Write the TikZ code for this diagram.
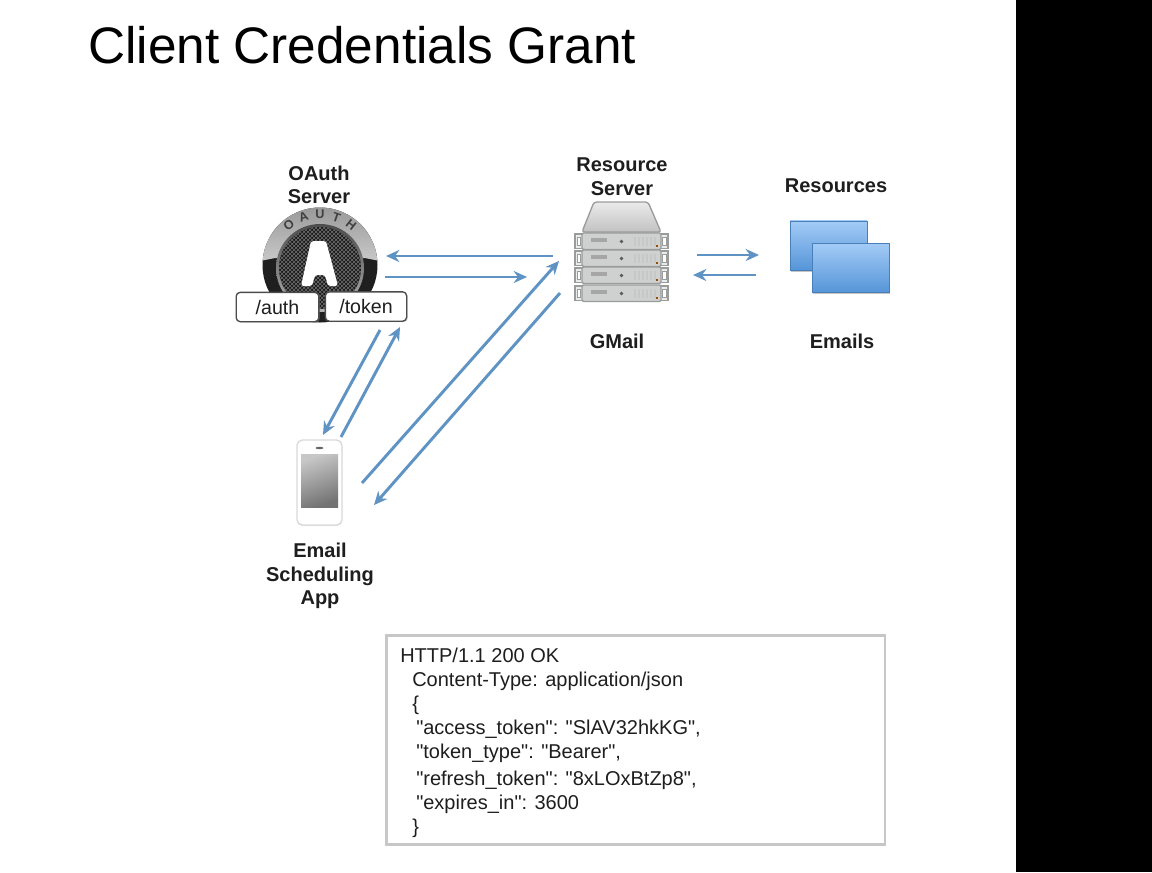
\documentclass[tikz,border=0pt]{standalone}
\usepackage{fontspec}
\setmainfont{Liberation Sans}
\newfontfamily\respfont{Liberation Sans}
\usetikzlibrary{
  arrows.meta,
  calc,
  shadows,
  patterns,
}
\definecolor{flowblue}{HTML}{5F93C3}
\definecolor{inkgrey}{HTML}{1E1E1E}
\definecolor{rackgrey}{HTML}{CFD1D1}
\definecolor{rackedge}{HTML}{9A9C9C}
\definecolor{sheetblue}{HTML}{5595D8}
\definecolor{sheetlight}{HTML}{A3CBF6}

\begin{document}
\begin{tikzpicture}[
  x=0.75pt, y=-0.75pt,
  flow/.style={-{Stealth[length=10pt,width=9pt]}, line width=2.2pt, flowblue},
  caption/.style={font=\fontsize{15}{17.7}\selectfont\bfseries, text=inkgrey, align=center, inner sep=0pt},
  endpoint/.style={draw=black!70, line width=1pt, fill=white, rounded corners=3pt, inner sep=0pt,
    minimum height=22pt, font=\fontsize{14.7}{17}\selectfont, text=inkgrey, drop shadow={shadow xshift=0.8pt, shadow yshift=-0.8pt, opacity=0.35}},
  sheet/.style={draw=sheetblue!85!black, line width=0.5pt, top color=sheetlight, bottom color=sheetblue,
    minimum width=57.5pt, minimum height=37pt, inner sep=0pt, drop shadow={shadow xshift=0.8pt, shadow yshift=-1pt, opacity=0.45}},
  rackunit/.style={draw=rackedge, line width=1.1pt, fill=rackgrey, rounded corners=1pt},
]
  \useasboundingbox (0,0) rectangle (1152,872);
  % Page
  \fill[white] (0,0) rectangle (1152,872);
  \fill[black] (1016,0) rectangle (1152,872);
  \node[anchor=west, inner sep=0pt, text=black, font=\fontsize{38.5}{42}\selectfont] (title) at (88,45) {Client Credentials Grant};

  % Captions
  \node[caption] (oauthcap) at (319,185) {OAuth\\Server};
  \node[caption] (rescap) at (622,177) {Resource\\Server};
  \node[caption] (sheetcap) at (836,186) {Resources};
  \node[caption] (gmailcap) at (617,341) {GMail};
  \node[caption] (emailcap) at (842,341) {Emails};
  \node[caption] (appcap) at (320,576) {Email\\Scheduling\\App};

  % OAuth logo
  \fill[black!88] (320,265) circle (57.5);
  \begin{scope}
    \clip (255,200) -- (385,200) -- (385,262) -- (365,258) -- (275,258) -- (255,262) -- cycle;
    \shade[top color=black!40, bottom color=white] (320,265) circle (57.5);
  \end{scope}
  \shade[top color=black!70, bottom color=black!30] (320,268) circle (44);
  \fill[black!90] (320,268) circle (41);
  \fill[pattern=crosshatch, pattern color=black!55] (320,268) circle (41);
  \fill[white, rounded corners=2pt] (311,241) -- (326,241) -- (338,286) -- (328,286) -- (325,275) -- (315,275) -- (312,286) -- (301,286) -- cycle;
  \foreach \letter/\ang in {O/128, A/109, U/90, T/71, H/52}
    \node[font=\fontsize{9.5}{9.5}\selectfont\bfseries, text=black!75, inner sep=0pt, rotate=\ang-90] at ($(320,265)+(\ang:50.5 and -50.5)$) {\letter};

  % Endpoints
  \node[endpoint, minimum width=62pt] (auth) at (277.5,307) {/auth};
  \node[endpoint, minimum width=61pt] (token) at (366,306.5) {/token};

  % Server rack
  \fill[draw=rackedge, line width=1pt, rounded corners=2pt, top color=black!8, bottom color=black!24]
    (594,202) -- (648,202) -- (661,232) -- (582,232) -- cycle;
  \foreach \yy in {233,250,267,285} {
    \draw[rackedge, line width=0.9pt, fill=black!8] (575,\yy+1) rectangle (668,\yy+15.5);
    \draw[rackunit] (582,\yy) rectangle (661,\yy+16.5);
    \draw[rackedge, line width=0.7pt, fill=white] (577,\yy+4) rectangle (580.5,\yy+12);
    \draw[rackedge, line width=0.7pt, fill=white] (662.5,\yy+4) rectangle (666,\yy+12);
    \fill[black!35] (591,\yy+5) rectangle (607,\yy+9);
    \fill[black!65] (621.5,\yy+8.5) circle (1.8);
    \foreach \xx in {634,638,...,654}
      \fill[black!22] (\xx,\yy+4) rectangle (\xx+2,\yy+13);
    \fill[orange!60!black] (656,\yy+12) rectangle (658,\yy+14);
  }
  \node[inner sep=0pt, minimum width=69.75pt, minimum height=75pt] (rack) at (621.5,252) {};

  % Resource sheets
  \node[sheet] (sheetback) at (828.5,245.5) {};
  \node[sheet] (sheetfront) at (850.5,268) {};

  % Phone
  \node[draw=black!15, line width=1pt, fill=white, rounded corners=4pt, minimum width=33.75pt, minimum height=63.75pt, inner sep=0pt,
    drop shadow={shadow xshift=0pt, shadow yshift=-0.8pt, opacity=0.2}] (phone) at (319.5,482.5) {};
  \shade[top color=black!22, bottom color=black!55, shading angle=20] (301,454) rectangle (338,507);
  \fill[black!60] (319.5,448) ellipse (4 and 1.2);

  % Flow ends
  \coordinate (a1) at (553,256);
  \coordinate (a2) at (386,256);
  \coordinate (b1) at (385,277);
  \coordinate (b2) at (527,277);
  \coordinate (c1) at (380,330);
  \coordinate (c2) at (323,435);
  \coordinate (d1) at (341,437);
  \coordinate (d2) at (400,327);
  \coordinate (e1) at (362,483);
  \coordinate (e2) at (559,261);
  \coordinate (f1) at (560,293);
  \coordinate (f2) at (374,505);
  \coordinate (g1) at (697,255);
  \coordinate (g2) at (759,255);
  \coordinate (h1) at (756,275);
  \coordinate (h2) at (693,275);
  \foreach \from/\to in {a1/a2, b1/b2, c1/c2, d1/d2, e1/e2, f1/f2, g1/g2, h1/h2}
    \draw[flow] (\from) -- (\to);

  % Token response
  \node[draw=black!22, line width=2pt, fill=white, anchor=north west, minimum width=374pt, minimum height=157pt, inner sep=0pt] (respbox) at (385,634) {};
  \node[anchor=north west, inner sep=0pt, align=left, text=inkgrey, font=\respfont\fontsize{15}{18}\selectfont] (resptext) at (400,648) {%
    HTTP/1.1 200 OK\\
    \hspace*{9pt}Content-Type: application/json\\
    \hspace*{9pt}\{\\
    \hspace*{12pt}"access\_token": "SlAV32hkKG",\\
    \hspace*{12pt}"token\_type": "Bearer",\\[2pt]
    \hspace*{12pt}"refresh\_token": "8xLOxBtZp8",\\
    \hspace*{12pt}"expires\_in": 3600\\
    \hspace*{9pt}\}};
\end{tikzpicture}
\end{document}
